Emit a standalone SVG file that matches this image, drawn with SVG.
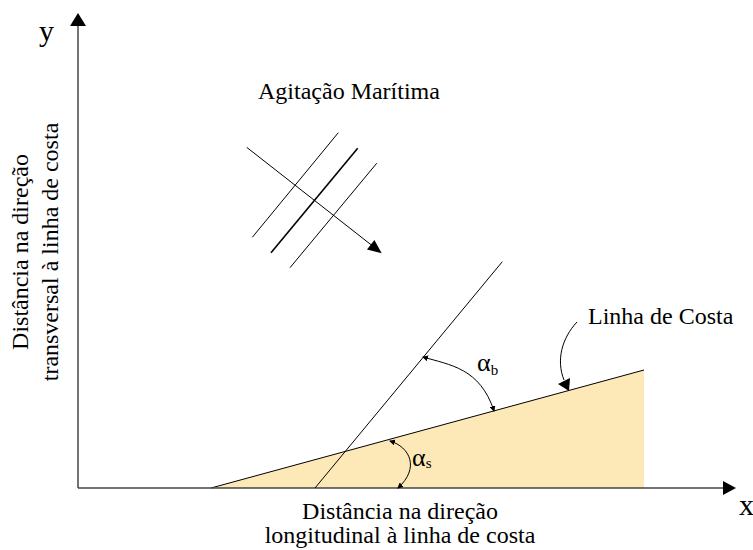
<svg xmlns="http://www.w3.org/2000/svg" width="753" height="550" viewBox="0 0 753 550">
<style>
text{font-family:"Liberation Serif","Times New Roman",serif;fill:#000}
.lbl{font-size:24px}
.ax{font-size:30px}
.gr{font-size:26px}
.sub{font-size:15px}
.ln{stroke:#000;stroke-width:1;fill:none}
.axis{stroke:#444;stroke-width:1.5;fill:none}
.ah{fill:#000;stroke:none}
</style>
<defs>
<marker id="dot" viewBox="0 0 6 6" refX="5" refY="3" markerWidth="6" markerHeight="6" markerUnits="userSpaceOnUse" orient="auto">
<path d="M0,0 L6,3 L0,6 z" fill="#000"/>
</marker>
<marker id="dotS" viewBox="0 0 6 6" refX="1" refY="3" markerWidth="6" markerHeight="6" markerUnits="userSpaceOnUse" orient="auto">
<path d="M6,0 L0,3 L6,6 z" fill="#000"/>
</marker>
</defs>
<rect width="753" height="550" fill="#fff"/>

<g id="shore">
<polygon points="211,488 644,370 644,488" fill="#FDE8B8"/>
<line class="ln" x1="211" y1="488" x2="644" y2="370"/>
</g>

<g id="axes">
<line class="axis" x1="78" y1="488" x2="724" y2="488"/>
<polygon class="ah" points="736,488 723,481 723,495"/>
<line class="axis" x1="78" y1="488" x2="78" y2="25"/>
<polygon class="ah" points="78,13 70,26 86,26"/>
<text class="ax" x="39" y="41">y</text>
<text class="ax" x="739" y="515">x</text>
</g>

<g id="waves">
<line class="ln" x1="338.3" y1="132.7" x2="252.3" y2="237.3"/>
<line class="ln" x1="357.7" y1="148.3" x2="271" y2="252.7" style="stroke-width:1.6"/>
<line class="ln" x1="376.7" y1="163.3" x2="290" y2="267.7"/>
</g>

<g id="normal">
<line class="ln" x1="315" y1="488" x2="502.3" y2="261.7"/>
</g>

<g id="labels">
<text class="lbl" x="258" y="99" style="font-family:'Liberation Serif',serif">Agita&#231;&#227;o Mar&#237;tima</text>
<text class="lbl" x="588" y="324">Linha de Costa</text>
<text class="lbl" text-anchor="middle" x="400" y="519">Dist&#226;ncia na dire&#231;&#227;o</text>
<text class="lbl" text-anchor="middle" x="400" y="543">longitudinal &#224; linha de costa</text>
<text class="lbl" text-anchor="middle" transform="translate(28,252) rotate(-90)">Dist&#226;ncia na dire&#231;&#227;o</text>
<text class="lbl" text-anchor="middle" transform="translate(58,252) rotate(-90)">transversal &#224; linha de costa</text>
<text class="gr" x="477" y="371">&#945;<tspan class="sub" dy="4">b</tspan></text>
<text class="gr" x="412" y="466">&#945;<tspan class="sub" dy="2">s</tspan></text>
</g>

<g id="connectors">
<line class="ln" x1="246.7" y1="147.3" x2="372" y2="245.5"/>
<polygon class="ah" points="381.7,253.3 367,249.4 374.4,240"/>
<path class="ln" d="M423,357 C450,365 480,368 494,411" marker-start="url(#dotS)" marker-end="url(#dot)"/>
<path class="ln" d="M390,441 C410,447 420,468 398,488" marker-start="url(#dotS)" marker-end="url(#dot)"/>
<path class="ln" d="M577,322 C562,338 556,360 564,380"/>
<polygon class="ah" points="558,384 570,378 569,391"/>
</g>
</svg>
